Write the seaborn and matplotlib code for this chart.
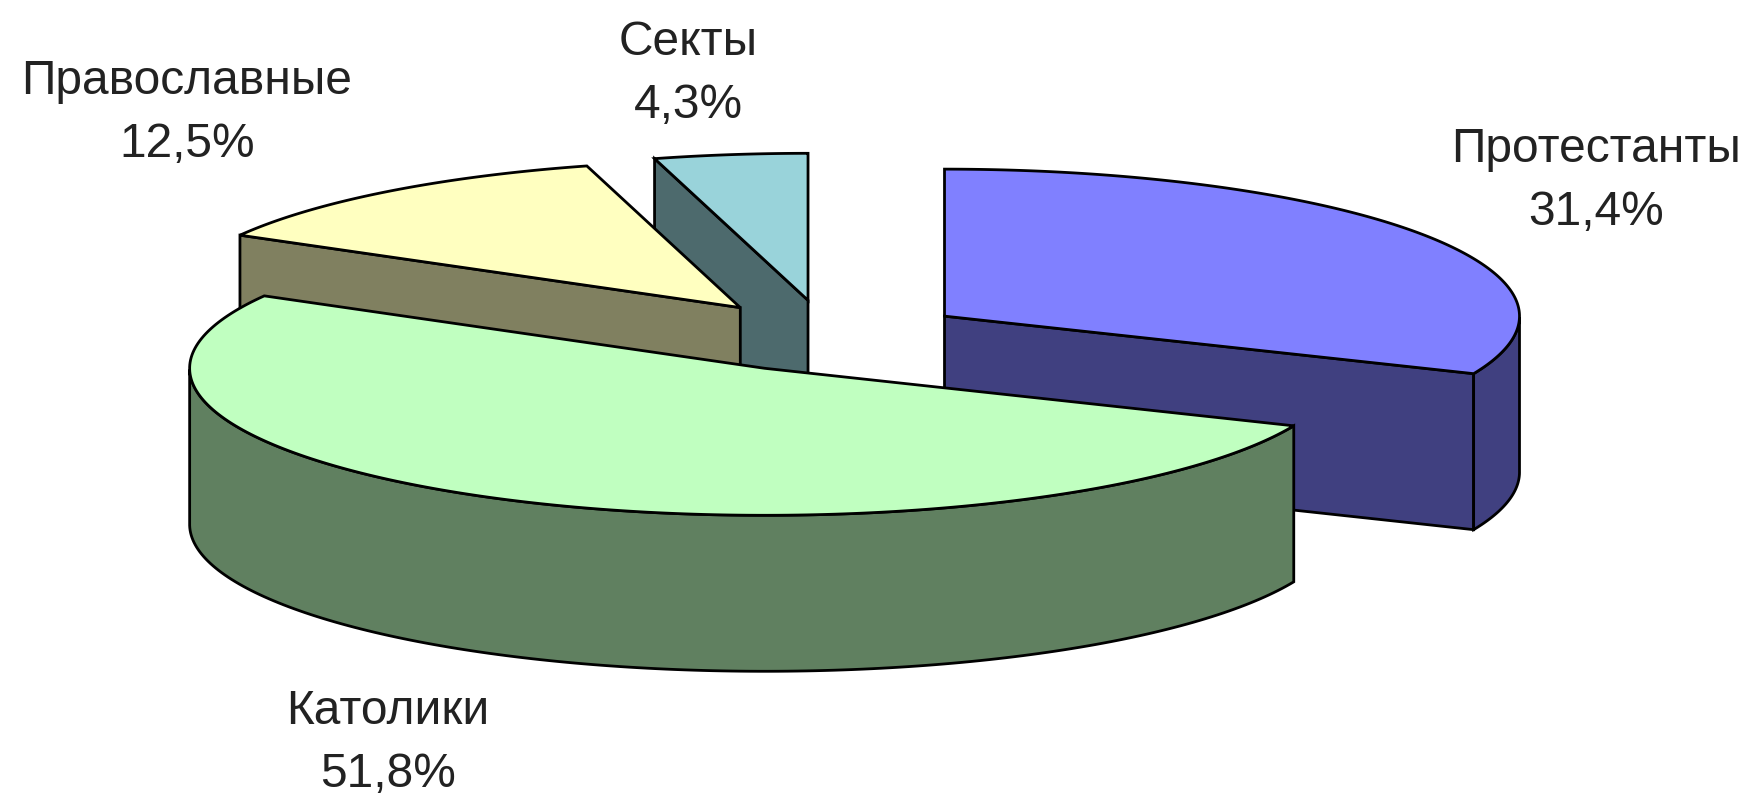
import numpy as np
import matplotlib
matplotlib.use('Agg')
import matplotlib.pyplot as plt
import seaborn as sns

# Shares of the pie, clockwise from 12 o'clock
names = ['Протестанты', 'Католики', 'Православные', 'Секты']
shares = [31.4, 51.8, 12.5, 4.3]
share_labels = ['31,4%', '51,8%', '12,5%', '4,3%']

# Top colours of the slices, side colours are these at half brightness
top_colors = sns.color_palette(['#8080FF', '#C0FFC0', '#FFFFC0', '#99D3DA'])
side_colors = [tuple(c * 0.5 for c in col) for col in top_colors]

# Pie look, in pixels of the picture
center_x, center_y = 827, 336
radius_x, radius_y = 575, 147
depth = 156
explode = 0.245
label_pos = [(1596, 181), (388, 743), (187, 113), (688, 74)]

sns.set_theme(style='white')
plt.rcParams['font.family'] = ['Liberation Sans', 'DejaVu Sans']

fig = plt.figure(figsize=(17.48, 7.94), dpi=100)
ax = fig.add_axes([0, 0, 1, 1])
ax.set_xlim(0, 1748)
ax.set_ylim(794, 0)
ax.axis('off')

# Slice edges in degrees, going clockwise from the top
edges = 90 - 360 * np.cumsum([0] + shares) / np.sum(shares)


def rim_xy(cx, cy, angles):
    rad = np.radians(angles)
    return cx + radius_x * np.cos(rad), cy - radius_y * np.sin(rad)


def draw_side(xs, ys, color):
    # a wall: the line xs, ys and the same line one depth lower
    xs = np.asarray(xs, dtype=float)
    ys = np.asarray(ys, dtype=float)
    ax.fill(np.r_[xs, xs[::-1]], np.r_[ys, ys[::-1] + depth],
            facecolor=color, edgecolor='black', linewidth=2, joinstyle='miter')


# Back slices first, the Catholic one has to end up in front
for i in [3, 2, 0, 1]:
    a1, a2 = edges[i], edges[i + 1]
    mid = np.radians((a1 + a2) / 2)
    cx = center_x + explode * radius_x * np.cos(mid)
    cy = center_y - explode * radius_y * np.sin(mid)

    angles = np.linspace(a1, a2, 200)
    xs, ys = rim_xy(cx, cy, angles)

    # Cut faces, only the ones turned to the viewer
    if np.cos(np.radians(a1)) < -1e-6:
        draw_side([cx, xs[0]], [cy, ys[0]], side_colors[i])
    if np.cos(np.radians(a2)) > 1e-6:
        draw_side([cx, xs[-1]], [cy, ys[-1]], side_colors[i])

    # Outer wall, only the front half of the ellipse
    front = np.sin(np.radians(angles)) < 0
    if front.any():
        draw_side(xs[front], ys[front], side_colors[i])

    # Top of the slice
    ax.fill(np.r_[cx, xs], np.r_[cy, ys], facecolor=top_colors[i],
            edgecolor='black', linewidth=2, joinstyle='miter')

for name, share, (x, y) in zip(names, share_labels, label_pos):
    ax.text(x, y, name + '\n' + share, ha='center', va='center', fontsize=34.5,
            color='#222222', linespacing=1.5)

fig.savefig('out.png', dpi=100, facecolor='white')
